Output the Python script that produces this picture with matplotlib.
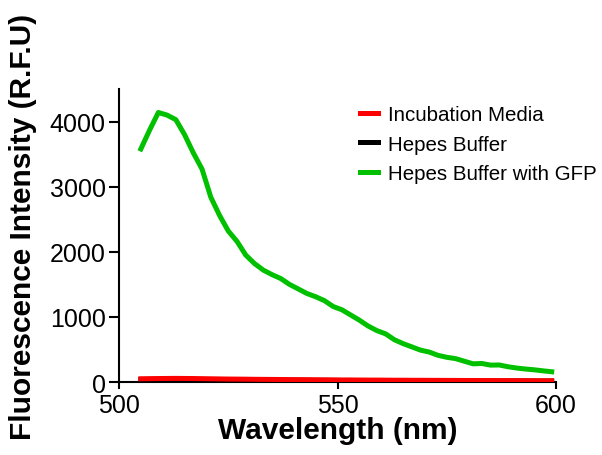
import numpy as np
import matplotlib.pyplot as plt

plt.rcParams['font.family'] = ['Liberation Sans', 'DejaVu Sans']

# emission scan, 2 nm steps
wavelength = np.arange(505, 600, 2)

gfp = [3580, 3870, 4140, 4100, 4030, 3800, 3520, 3270, 2840, 2560,
       2320, 2160, 1950, 1820, 1720, 1650, 1590, 1500, 1430, 1360,
       1310, 1250, 1160, 1110, 1030, 950, 860, 790, 740, 650,
       590, 540, 490, 460, 410, 380, 360, 320, 280, 285,
       260, 262, 235, 215, 200, 188, 172, 158]

media = [50, 52, 54, 55, 56, 55, 54, 52, 50, 48,
         46, 45, 44, 42, 41, 40, 39, 38, 37, 36,
         35, 34, 33, 32, 32, 31, 30, 30, 29, 28,
         28, 27, 27, 26, 26, 25, 25, 24, 24, 23,
         23, 22, 22, 22, 21, 21, 20, 20]

hepes = [40, 41, 42, 42, 41, 40, 39, 38, 37, 36,
         35, 34, 33, 32, 31, 30, 29, 28, 28, 27,
         26, 26, 25, 24, 24, 23, 23, 22, 22, 21,
         21, 20, 20, 19, 19, 19, 18, 18, 18, 17,
         17, 17, 16, 16, 16, 15, 15, 15]

fig = plt.figure(figsize=(6.02, 4.56), dpi=100)
ax = fig.add_axes([0.1977, 0.160, 0.726, 0.6425])

ax.plot(wavelength, hepes, color='black', lw=3.6, label='Hepes Buffer', zorder=2)
ax.plot(wavelength, media, color='#ff0000', lw=3.6, label='Incubation Media', zorder=3)
ax.plot(wavelength, gfp, color='#00c000', lw=3.6, label='Hepes Buffer with GFP', zorder=4)

ax.set_xlim(500, 600)
ax.set_ylim(0, 4500)
ax.set_xticks([500, 550, 600])
ax.set_yticks([0, 1000, 2000, 3000, 4000])

for s in ['top', 'right']:
    ax.spines[s].set_visible(False)
for s in ['left', 'bottom']:
    ax.spines[s].set_linewidth(1.5)
ax.tick_params(axis='x', direction='out', length=5, width=1.5, pad=3, labelsize=18)
ax.tick_params(axis='y', direction='out', length=7.5, width=1.5, pad=2, labelsize=18)

ax.set_xlabel('Wavelength (nm)', fontsize=21.5, fontweight='bold')
ax.set_ylabel('Fluorescence Intensity (R.F.U)', fontsize=21.5, fontweight='bold')
ax.xaxis.set_label_coords(0.5, -0.116)
ax.yaxis.set_label_coords(-0.188, 0.534)

h, l = ax.get_legend_handles_labels()
order = [1, 0, 2]
ax.legend([h[i] for i in order], [l[i] for i in order], loc='upper left',
          bbox_to_anchor=(0.5515, 0.946), frameon=False, fontsize=14.8,
          borderpad=0, borderaxespad=0,
          handlelength=0.85, handletextpad=0.5, labelspacing=0.52)

fig.savefig('out.png', dpi=100)
